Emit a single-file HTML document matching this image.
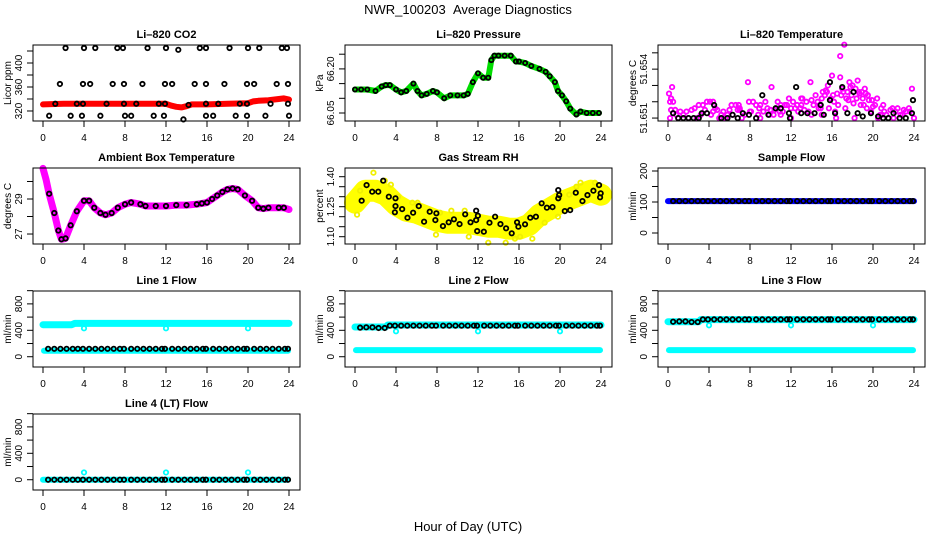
<!DOCTYPE html>
<html><head><meta charset="utf-8"><style>
html,body{margin:0;padding:0;background:#fff;}
svg{display:block;font-family:"Liberation Sans",Arial,sans-serif;}
</style></head><body>
<svg id="chart" width="936" height="540" viewBox="0 0 936 540" xmlns="http://www.w3.org/2000/svg">
<text x="468" y="14" text-anchor="middle" font-size="13">NWR_100203&#160;&#160;Average Diagnostics</text>
<text x="468" y="531" text-anchor="middle" font-size="13">Hour of Day (UTC)</text>
</svg>
<script>
// ---- data ----
const co2LineHours=[0,2,4,6,8,10,12,12.5,13,13.5,14,14.5,16,18,20,20.5,21,22,23,23.5,24];
const co2LineValues=[331,332,332,332,332,332,332,329,327,326,328,331,331,332,333,336,337,338,340,341,339];
const co2PtHours=[2.2,4.0,5.1,7.25,7.8,10.2,12.0,13.2,15.3,15.9,18.2,20.0,21.1,23.3,23.8,
1.65,3.9,4.6,6.8,7.9,9.7,11.9,12.6,14.8,15.9,17.7,19.9,20.6,22.8,23.9,
1.2,3.3,3.9,6.2,7.9,9.1,11.3,11.9,14.2,15.9,17.1,19.2,19.9,22.2,23.9,
0.6,2.7,3.8,5.6,8.0,8.6,10.8,11.8,13.7,15.9,16.6,18.8,19.9,21.7,24.0];
const co2PtValues=[425,425,425,425,425,425,425,422,425,425,425,425,425,425,425,
365,365,365,365,365,365,365,365,365,365,365,365,365,365,365,
332,332,332,332,332,332,332,332,330,332,332,332,332,332,332,
312,312,312,312,312,312,312,312,306,312,312,312,312,312,312];

const presHours=[0,0.6,1.2,2,2.6,3,3.4,4,4.5,5,5.7,6.1,6.5,7,7.6,8,8.7,9.3,10,10.6,11,11.5,12,12.5,13,13.3,13.6,14,14.6,15.2,15.7,16,16.6,17.2,18,18.6,19,19.5,19.8,20.2,20.6,21,21.6,22,22.6,23.2,23.8];
const presValues=[66.13,66.13,66.13,66.125,66.14,66.145,66.145,66.13,66.12,66.125,66.15,66.125,66.11,66.115,66.125,66.12,66.10,66.11,66.11,66.11,66.115,66.155,66.185,66.17,66.17,66.23,66.245,66.245,66.245,66.245,66.225,66.225,66.22,66.21,66.2,66.19,66.175,66.155,66.125,66.11,66.09,66.065,66.045,66.055,66.05,66.05,66.05];

const tempMagHours=[0.1,0.2,0.3,0.4,0.5,0.2,0.7,1,1.5,2,2.3,2.8,3.2,3.6,3.8,4.1,4.4,4.8,5.2,5.6,6,6.3,6.8,7.2,7.8,7.9,8.3,8.6,9,9.5,10,10.1,10.7,11,11.4,11.8,12.2,12.6,13,13.5,13.9,14.2,14.6,15,15.3,15.6,15.9,16.2,16.5,16.8,17,17.2,17.4,17.7,18,18.3,18.5,18.7,19,19.3,19.6,20,20.4,20.8,21.3,21.7,22.2,22.7,23,23.5,23.8,16.4,16.8,5,9,12,14,18.2,20.5,22,24,15,11,3,7,13,17.5,19.5,21,1.2,2.6,4.4,6.6,8.9,10.4,12.9,14.4,15.4,16,17.8,18.9,19.9,21.9,23.2,
4.6,5.4,6.2,7.0,8.1,8.8,9.7,10.9,11.6,12.4,13.3,14.0,14.8,15.1,15.7,16.1,16.6,17.1,17.6,17.9,18.4,18.8,19.2,19.8,20.2,20.7,4.2,5.8,7.5,9.3,10.3,11.2,12.0,13.7,14.9,16.3,17.3,18.1,19.4,20.9,22.4,23.6,0.3,0.8,1.8,3.4,6.9,8.0,9.9,12.7,13.1,14.7,15.5,16.9,18.6,19.1,21.1,22.9];
const tempMagValues=[51.6525,51.652,51.6515,51.6529,51.652,51.651,51.6515,51.651,51.6512,51.651,51.6515,51.651,51.6512,51.6515,51.652,51.652,51.652,51.6515,51.6512,51.651,51.6515,51.6512,51.6515,51.651,51.6532,51.652,51.652,51.6518,51.6518,51.652,51.6515,51.6529,51.652,51.6518,51.6518,51.6522,51.652,51.6518,51.6518,51.652,51.6532,51.6518,51.652,51.6522,51.6524,51.653,51.6522,51.652,51.6525,51.6535,51.6528,51.6555,51.6522,51.6532,51.653,51.6528,51.6533,51.6525,51.6522,51.6525,51.6521,51.6517,51.6522,51.6516,51.6512,51.6515,51.6514,51.6512,51.6515,51.6516,51.6528,51.651,51.6548,51.651,51.651,51.651,51.6512,51.651,51.651,51.651,51.651,51.6512,51.6512,51.6518,51.6515,51.6522,51.6526,51.6524,51.6518,51.6514,51.6516,51.6514,51.6518,51.6516,51.6515,51.6516,51.6524,51.6527,51.6536,51.6529,51.6526,51.6521,51.6516,51.6514,
51.6516,51.6514,51.6518,51.6516,51.6514,51.6512,51.6516,51.6514,51.6518,51.6516,51.6515,51.6521,51.6518,51.6526,51.6516,51.6524,51.6518,51.6526,51.6521,51.6524,51.6522,51.6518,51.6528,51.6514,51.6518,51.6512,51.6512,51.6512,51.6512,51.6514,51.6512,51.6514,51.6516,51.6514,51.6516,51.6514,51.6516,51.6519,51.6516,51.6512,51.6516,51.6514,51.6522,51.6512,51.6514,51.6518,51.6518,51.6514,51.6512,51.6514,51.6522,51.6516,51.6526,51.6524,51.6526,51.6518,51.6514,51.6512];
const tempBlkHours=[0.5,1,1.5,2,2.5,3,3.3,3.8,4.5,5.2,5.8,6.3,6.8,7.3,7.9,8.6,9.2,9.8,10.5,11,11.8,11.9,12.5,13,13.6,14.3,14.9,15.2,15.8,15.8,16.3,17,17.5,18.1,18.5,19,19.8,20.5,21,21.5,22,22.6,23.2,23.8,23.9];
const tempBlkValues=[51.6513,51.651,51.651,51.651,51.651,51.651,51.6513,51.6513,51.6518,51.651,51.651,51.6512,51.651,51.6513,51.6512,51.651,51.6524,51.6512,51.6516,51.6516,51.6513,51.651,51.6529,51.6513,51.6513,51.6513,51.6518,51.6512,51.6521,51.6532,51.6513,51.6529,51.6513,51.6526,51.6513,51.6511,51.6513,51.6511,51.651,51.651,51.6513,51.651,51.651,51.6513,51.6521];

const ambHours=[0,0.3,0.6,1.1,1.5,1.8,2.2,2.7,3.3,4,4.5,5,5.6,6.1,6.7,7.3,8,8.6,9.5,10,11,12,13,14,15,15.5,16,16.5,17,17.5,18,18.5,19,19.7,20.4,21,21.5,22,23,23.5,24];
const ambValues=[30.75,30.1,29.3,28.2,27.2,26.7,26.75,27.5,28.3,28.9,28.9,28.5,28.2,28.1,28.2,28.5,28.7,28.8,28.7,28.6,28.6,28.6,28.65,28.65,28.7,28.75,28.8,29.0,29.2,29.4,29.55,29.6,29.55,29.2,28.9,28.5,28.45,28.5,28.5,28.5,28.4];

const rhTrendHours=[0,1,2,3,4,5,6,7,8,9,10,11,12,13,14,15,16,17,18,19,20,21,22,23,24];
const rhTrendValues=[1.27,1.33,1.33,1.31,1.26,1.23,1.22,1.20,1.18,1.17,1.17,1.17,1.16,1.15,1.15,1.14,1.14,1.16,1.21,1.24,1.27,1.29,1.31,1.33,1.31];
const rhYelHours=[1.8,0.2,13,14.7,17.3,11.1,22,7.9,19.8,0.5,2.9,6.1,9.4,12.3,16.1,20.9,23.4,4.2,8.3,15.6,18.5,21.6,3.5,5.6,10.7];
const rhYelValues=[1.42,1.21,1.07,1.07,1.09,1.10,1.37,1.11,1.20,1.33,1.38,1.27,1.23,1.12,1.10,1.31,1.37,1.30,1.22,1.09,1.17,1.35,1.36,1.27,1.23];
const rhBlkHours=[1.13,1.68,2.27,2.75,3.3,3.95,3.95,3.89,4.6,5.12,5.67,6.22,6.74,7.29,7.84,7.94,8.58,9.14,9.65,10.2,10.75,11.27,11.82,11.82,11.99,11.92,12.57,13.12,13.67,14.19,14.74,15.29,15.81,15.94,16.59,17.1,17.65,18.21,18.72,19.27,19.83,19.83,19.92,20.47,20.99,21.54,22.19,22.68,23.26,23.81,23.91,23.97,0.65];
const rhBlkValues=[1.358,1.325,1.325,1.38,1.30,1.292,1.253,1.222,1.238,1.195,1.22,1.253,1.175,1.225,1.183,1.217,1.153,1.172,1.187,1.163,1.212,1.172,1.183,1.23,1.205,1.128,1.125,1.17,1.20,1.163,1.142,1.117,1.172,1.15,1.162,1.195,1.20,1.267,1.245,1.248,1.292,1.333,1.308,1.228,1.233,1.32,1.278,1.308,1.33,1.358,1.297,1.317,1.28];

const flowHours=[0.5,1.1,1.7,2.3,2.9,3.4,3.9,4.5,5.1,5.7,6.3,6.9,7.5,7.9,8.6,9.2,9.8,10.4,11.0,11.6,11.9,12.6,13.2,13.8,14.4,15.0,15.6,15.9,16.6,17.2,17.8,18.4,19.0,19.6,19.9,20.6,21.2,21.8,22.4,23.0,23.6,23.9];
const sampleBlack=[103,103,103,103,103,103,103,103,103,103,103,103,103,103,103,103,103,103,103,103,103,103,103,103,103,103,103,103,103,103,103,103,103,103,103,103,103,103,103,103,103,103];
const line1Black=[120,120,120,120,120,120,120,120,120,120,120,120,120,120,120,120,120,120,120,120,120,120,120,120,120,120,120,120,120,120,120,120,120,120,120,120,120,120,120,120,120,120];
const line2Black=[440,445,445,435,435,470,470,470,470,470,470,470,470,470,470,470,470,470,470,470,470,470,470,470,470,470,470,470,470,470,470,470,470,470,470,470,470,470,470,470,470,470];
const line3Black=[530,535,535,525,525,565,565,565,565,565,565,565,565,565,565,565,565,565,565,565,565,565,565,565,565,565,565,565,565,565,565,565,565,565,565,565,565,565,565,565,565,565];
const line4Black=[0,0,0,0,0,0,0,0,0,0,0,0,0,0,0,0,0,0,0,0,0,0,0,0,0,0,0,0,0,0,0,0,0,0,0,0,0,0,0,0,0,0];
const sampleBandHours=[0,24];const sampleBandValues=[103,103];
const line1UpHours=[0,2.8,3.1,24];const line1UpValues=[485,485,505,505];
const line1LowHours=[0.1,23.9];const line1LowValues=[90,90];
const line2UpHours=[0,3,3.2,24];const line2UpValues=[450,450,480,480];
const line3UpHours=[0,3,3.2,24];const line3UpValues=[530,530,562,562];
const lowFlowHours=[0.1,23.9];const lowFlowValues=[100,100];
const line4Hours=[0,23.9];const line4Values=[0,0];
const dipHours=[4,12,20];
const line1Dips=[430,430,430];const line2Dips=[385,385,385];const line3Dips=[475,475,475];const line4Spikes=[110,110,110];
const xTicks=[0,4,8,12,16,20,24];

// ---- drawing ----
const NS='http://www.w3.org/2000/svg';
const svg=document.getElementById('chart');
const colLeft=[33,345,658], rowTop=[45,168,291,414], W=267, H=76;
function mk(tag,attrs,parent){const e=document.createElementNS(NS,tag);for(const k in attrs)e.setAttribute(k,attrs[k]);(parent||svg).appendChild(e);return e;}

function panel(name,title,ylab,c,r,ymin,ymax,ticks,labels,draw){
  const L=colLeft[c],T=rowTop[r];
  const g=mk('g',{});
  
  
  const xs=h=>L+10+h*246/24;
  const ys=v=>T+H-(v-ymin)/(ymax-ymin)*H;
  const t=mk('text',{x:L+W/2,y:T-7,'text-anchor':'middle','font-size':11,'font-weight':'bold'},g);
  t.textContent=title;
  
  
  const plot=mk('g',{},g);
  
  
  draw(plot,xs,ys);
  const box=mk('rect',{x:L,y:T,width:W,height:H,fill:'none',stroke:'#000','stroke-width':1},g);
  
  
  const xa=mk('g',{},g);
  
  
  mk('line',{x1:xs(0),x2:xs(24),y1:T+H,y2:T+H,stroke:'#000'},xa);
  xTicks.forEach(v=>{
    mk('line',{x1:xs(v),x2:xs(v),y1:T+H,y2:T+H+6,stroke:'#000'},xa);
    const tl=mk('text',{x:xs(v),y:T+H+20,'text-anchor':'middle','font-size':10},xa);
    tl.textContent=v;
    
    
  });
  const ya=mk('g',{},g);
  
  
  mk('line',{x1:L,x2:L,y1:ys(ticks[0]),y2:ys(ticks[ticks.length-1]),stroke:'#000'},ya);
  ticks.forEach(v=>mk('line',{x1:L-6,x2:L,y1:ys(v),y2:ys(v),stroke:'#000'},ya));
  labels.forEach(v=>{
    const y=ys(v),x=L-11;
    const tl=mk('text',{x:x,y:y,'text-anchor':'middle','font-size':10,transform:`rotate(-90 ${x} ${y})`},ya);
    tl.textContent=v;
    
    
  });
  const yl=mk('text',{x:L-22,y:T+H/2,'text-anchor':'middle','font-size':10,transform:`rotate(-90 ${L-22} ${T+H/2})`},g);
  yl.textContent=ylab;
  
  
}
function band(p,xs,ys,hs,vs,color,w){
  const pts=hs.map((h,i)=>xs(h).toFixed(1)+','+ys(vs[i]).toFixed(1)).join(' ');
  const pl=mk('polyline',{points:pts,fill:'none',stroke:color,'stroke-width':w,'stroke-linejoin':'round','stroke-linecap':'round'},p);
  
  
}
function pts(p,xs,ys,hs,vs,color,r){
  hs.forEach((h,i)=>{
    const c=mk('circle',{cx:xs(h),cy:ys(vs[i]),r:r||2.2,fill:'none',stroke:color,'stroke-width':1.8},p);
    
    
  });
}
const flowTicks=[0,200,400,600,800,1000], flowLabels=[0,400,800];

panel('co2','Li\u2013820 CO2','Licor ppm',0,0,303.3,430,[320,340,360,380,400,420],[320,360,400],(p,xs,ys)=>{
  band(p,xs,ys,co2LineHours,co2LineValues,'#ff0000',6);
  pts(p,xs,ys,co2PtHours,co2PtValues,'#000');
});
panel('pressure','Li\u2013820 Pressure','kPa',1,0,66.0228,66.2813,[66.05,66.10,66.15,66.20,66.25],['66.05','66.20'],(p,xs,ys)=>{
  band(p,xs,ys,presHours,presValues,'#00dd00',6);
  pts(p,xs,ys,presHours,presValues,'#000',2.1);
});
panel('temperature','Li\u2013820 Temperature','degrees C',2,0,51.65082,51.65548,[51.651,51.652,51.653,51.654,51.655],['51.651','51.654'],(p,xs,ys)=>{
  pts(p,xs,ys,tempMagHours,tempMagValues,'#ff00ff');
  pts(p,xs,ys,tempBlkHours,tempBlkValues,'#000');
});
panel('ambient','Ambient Box Temperature','degrees C',0,1,26.43,30.77,[27,28,29,30],[27,29],(p,xs,ys)=>{
  band(p,xs,ys,ambHours,ambValues,'#ff00ff',7);
  pts(p,xs,ys,ambHours.slice(2,40),ambValues.slice(2,40),'#000');
});
panel('rh','Gas Stream RH','percent',1,1,1.0635,1.4435,[1.10,1.15,1.20,1.25,1.30,1.35,1.40],['1.10','1.25','1.40'],(p,xs,ys)=>{
  band(p,xs,ys,rhTrendHours,rhTrendValues,'#ffff00',22);
  pts(p,xs,ys,rhYelHours,rhYelValues,'#f0f000');
  pts(p,xs,ys,rhBlkHours,rhBlkValues,'#000');
});
panel('sample-flow','Sample Flow','ml/min',2,1,-35.5,209.7,[0,50,100,150,200],[0,100,200],(p,xs,ys)=>{
  band(p,xs,ys,sampleBandHours,sampleBandValues,'#0000ff',6);
  pts(p,xs,ys,flowHours,sampleBlack,'#000');
});
panel('line1-flow','Line 1 Flow','ml/min',0,2,-155.5,995,flowTicks,flowLabels,(p,xs,ys)=>{
  band(p,xs,ys,line1UpHours,line1UpValues,'#00ffff',7);
  band(p,xs,ys,line1LowHours,line1LowValues,'#00ffff',6);
  pts(p,xs,ys,dipHours,line1Dips,'#00ffff');
  pts(p,xs,ys,flowHours,line1Black,'#000');
});
panel('line2-flow','Line 2 Flow','ml/min',1,2,-155.5,995,flowTicks,flowLabels,(p,xs,ys)=>{
  band(p,xs,ys,line2UpHours,line2UpValues,'#00ffff',7);
  band(p,xs,ys,lowFlowHours,lowFlowValues,'#00ffff',6);
  pts(p,xs,ys,dipHours,line2Dips,'#00ffff');
  pts(p,xs,ys,flowHours,line2Black,'#000');
});
panel('line3-flow','Line 3 Flow','ml/min',2,2,-155.5,995,flowTicks,flowLabels,(p,xs,ys)=>{
  band(p,xs,ys,line3UpHours,line3UpValues,'#00ffff',7);
  band(p,xs,ys,lowFlowHours,lowFlowValues,'#00ffff',6);
  pts(p,xs,ys,dipHours,line3Dips,'#00ffff');
  pts(p,xs,ys,flowHours,line3Black,'#000');
});
panel('line4-flow','Line 4 (LT) Flow','ml/min',0,3,-155.5,995,flowTicks,flowLabels,(p,xs,ys)=>{
  band(p,xs,ys,line4Hours,line4Values,'#00ffff',6);
  pts(p,xs,ys,dipHours,line4Spikes,'#00ffff');
  pts(p,xs,ys,flowHours,line4Black,'#000');
});
</script>
</body></html>
